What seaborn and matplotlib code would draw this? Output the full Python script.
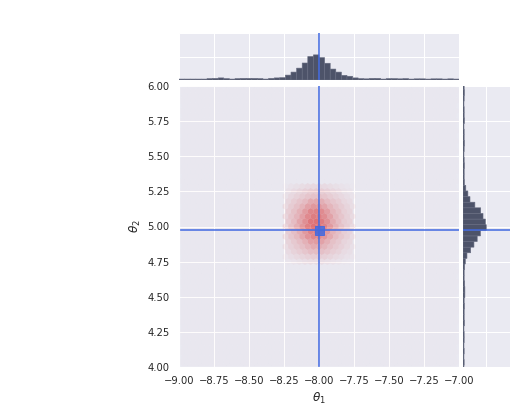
import numpy as np
import pandas as pd
import matplotlib
matplotlib.use("Agg")
import matplotlib.pyplot as plt
import seaborn as sns
from matplotlib.colors import LinearSegmentedColormap, PowerNorm

# ---- data -------------------------------------------------------------
bin_width = 0.04
theta1_start = -9.0
theta1_counts = [4, 4, 4, 4, 4, 6, 7, 9, 6, 4, 6, 7, 7, 7, 6, 4, 7, 9, 10,
                 21, 34, 51, 73, 101, 108, 96, 72, 47, 34, 20, 16, 9,
                 6, 5, 7, 7, 4, 6, 6, 5, 6, 4, 5, 5, 4, 5, 5, 4, 5, 4]
theta2_start = 3.973
theta2_counts = [4, 5, 4, 5, 4, 5, 5, 4, 6, 5, 5, 6, 5, 8, 8, 7, 5,
                 5, 7, 10, 17, 33, 47, 61, 75,
                 100, 96, 86, 76, 51, 30, 21, 12, 6,
                 5, 5, 6, 5, 4, 5, 6, 5, 5, 4, 6, 5, 5, 4, 5, 6, 5]
# highest count of the flat marginal tails (counts per bin)
theta1_tail = 10
theta2_tail = 8
true_theta1 = -8.0
true_theta2 = 4.973
xticks = [-9.0, -8.75, -8.5, -8.25, -8.0, -7.75, -7.5, -7.25, -7.0]
yticks = [4.0, 4.25, 4.5, 4.75, 5.0, 5.25, 5.5, 5.75, 6.0]

# ---- derived tables ----------------------------------------------------
c1 = np.array(theta1_counts, float)
c2 = np.array(theta2_counts, float)
e1 = theta1_start + bin_width * np.arange(len(c1) + 1)
e2 = theta2_start + bin_width * np.arange(len(c2) + 1)
marg1 = pd.DataFrame({"theta1": (e1[:-1] + e1[1:]) / 2, "count": c1})
marg2 = pd.DataFrame({"theta2": (e2[:-1] + e2[1:]) / 2, "count": c2})

# joint = peaked part (product of the de-backgrounded marginals)
#         + flat background spread evenly over all cells
p1 = np.clip(c1 - theta1_tail, 0, None)
p2 = np.clip(c2 - theta2_tail, 0, None)
peak_total = 0.5 * (p1.sum() + p2.sum())
bg_total = c1.sum() - peak_total
sub = 4
offs = (np.arange(sub) + 0.5) / sub * bin_width
jx = (e1[:-1, None] + offs[None, :]).ravel()
jy = (e2[:-1, None] + offs[None, :]).ravel()
XX, YY = np.meshgrid(jx, jy, indexing="ij")
WW = (np.outer(np.repeat(p1, sub), np.repeat(p2, sub)) / p1.sum() / p2.sum()
      * peak_total + bg_total / XX.size)
joint = pd.DataFrame({"theta1": XX.ravel(), "theta2": YY.ravel(), "w": WW.ravel()})

# ---- plot --------------------------------------------------------------
sns.set_theme(style="darkgrid")
plt.rcParams["font.family"] = ["DejaVu Sans"]
plt.rcParams["axes.unicode_minus"] = True

g = sns.JointGrid()
fig = g.figure
fig.set_size_inches(517 / 72, 408 / 72)

W, H = 517.0, 408.0
g.ax_joint.set_position([179 / W, (H - 367) / H, 280 / W, 281 / H])
g.ax_marg_x.set_position([179 / W, (H - 80) / H, 280 / W, 47 / H])
g.ax_marg_y.set_position([463 / W, (H - 367) / H, 47 / W, 281 / H])

red = (0.84, 0.16, 0.17)
cmap = LinearSegmentedColormap.from_list(
    "fade_red", [(*red, 0.004), (*red, 0.24), (*red, 0.62)])

ax = g.ax_joint
ax.hexbin(joint["theta1"], joint["theta2"], C=joint["w"],
          reduce_C_function=np.sum, gridsize=50,
          extent=(-9, -7, 4, 6), cmap=cmap, linewidths=0.0,
          norm=PowerNorm(gamma=0.5))

bar_color = "#4d5369"
edge_color = "#666b80"
sns.histplot(data=marg1, x="theta1", weights="count", bins=list(e1),
             ax=g.ax_marg_x, color=bar_color, alpha=1,
             edgecolor=edge_color, linewidth=0.6, snap=False)
sns.histplot(data=marg2, y="theta2", weights="count", bins=list(e2),
             ax=g.ax_marg_y, color=bar_color, alpha=1,
             edgecolor=edge_color, linewidth=0.6, snap=False)

line_color = "royalblue"
for a in (ax, g.ax_marg_x):
    a.axvline(true_theta1, color=line_color, lw=1.8, alpha=0.85)
for a in (ax, g.ax_marg_y):
    a.axhline(true_theta2, color=line_color, lw=1.8, alpha=0.85)
ax.plot([true_theta1], [true_theta2], marker="s", ms=9, color=line_color,
        alpha=0.85, linestyle="none")

ax.set_xlim(-9, -7)
ax.set_ylim(4, 6)
ax.set_xticks(xticks)
ax.set_yticks(yticks)
ax.set_xticklabels([f"{v:.2f}".replace("-", "\u2212") for v in xticks], fontsize=10)
ax.set_yticklabels([f"{v:.2f}" for v in yticks], fontsize=10)
ax.set_xlabel(r"$\theta_1$", fontsize=12)
ax.set_ylabel(r"$\theta_2$", fontsize=12)

mx, my = g.ax_marg_x, g.ax_marg_y
mx.set_ylim(0, 202)
mx.set_yticks([0, 100, 200])
mx.yaxis.grid(True)
mx.tick_params(labelleft=False, labelbottom=False)
mx.set_ylabel("")
my.set_xlim(0, 202)
my.set_xticks([0, 100, 200])
my.xaxis.grid(True)
my.tick_params(labelbottom=False, labelleft=False)
my.set_xlabel("")
for a in (mx, my):
    for s in a.spines.values():
        s.set_visible(False)

fig.savefig("out.png", dpi=72)
